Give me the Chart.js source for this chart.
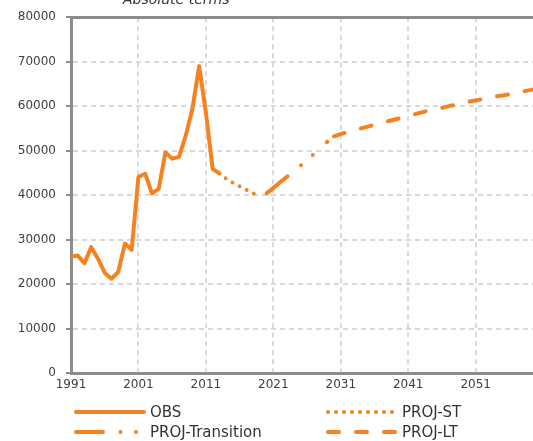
<!DOCTYPE html>
<html>
<head>
<meta charset="utf-8">
<script src="https://cdn.jsdelivr.net/npm/chart.js@4.4.0/dist/chart.umd.min.js"></script>
<style>
  html, body { margin: 0; padding: 0; background: #fff; overflow: hidden; }
  #wrap { position: relative; width: 533px; height: 441px; }
  #chartBox { position: absolute; left: 0; top: 0; width: 533px; height: 396px; }
  #title { position: absolute; left: 123px; top: -9px; font: italic 14px "DejaVu Sans", sans-serif; color: #333; white-space: nowrap; }
  #legend { position: absolute; left: 0; top: 0; width: 533px; height: 441px; font: 15px "DejaVu Sans", sans-serif; color: #333; }
  .item { position: absolute; display: flex; align-items: center; height: 18px; white-space: nowrap; }
  .item canvas { display: block; margin-right: 4px; }
</style>
</head>
<body>
<div id="wrap">
  <div id="chartBox"><canvas id="lines"></canvas></div>
  <div id="title">Absolute terms</div>
  <div id="legend"></div>
</div>
<script>
// 관측치 (OBS)
const obsYears = [1991, 1992, 1993, 1994, 1995, 1996, 1997, 1998, 1999, 2000, 2001, 2002,
                  2003, 2004, 2005, 2006, 2007, 2008, 2009, 2010, 2011, 2012, 2013];
const obsValues = [26200, 26400, 24700, 28300, 25700, 22500, 21200, 22700, 29100, 27700, 44100, 44800,
                   40400, 41400, 49600, 48200, 48600, 53300, 59400, 69000, 58600, 45900, 44900];

// 단기 전망 (PROJ-ST)
const stYears = [2013, 2014, 2015, 2016, 2017, 2018, 2019];
const stValues = [44900, 43700, 42800, 42000, 41200, 40400, 39900];

// 전환기 (PROJ-Transition)
const trYears = [2020, 2021, 2022, 2023, 2024, 2025, 2026, 2027, 2028, 2029];
const trValues = [40400, 41600, 42900, 44100, 45300, 46600, 47900, 49200, 50600, 52000];

// 장기 전망 (PROJ-LT)
const ltYears = [2030, 2031, 2032, 2033, 2034, 2035, 2036, 2037, 2038, 2039, 2040,
                 2041, 2042, 2043, 2044, 2045, 2046, 2047, 2048, 2049, 2050,
                 2051, 2052, 2053, 2054, 2055, 2056, 2057, 2058, 2059, 2060];
const ltValues = [53200, 53700, 54200, 54600, 55000, 55400, 55800, 56200, 56600, 57000, 57400,
                  57800, 58200, 58600, 59000, 59300, 59600, 60000, 60300, 60600, 61000,
                  61300, 61600, 61900, 62200, 62400, 62700, 63000, 63300, 63600, 63900];

const xTickYears = [1991, 2001, 2011, 2021, 2031, 2041, 2051];

const orange = 'rgb(245, 130, 32)';
const axisGray = '#8c8c8c';
const gridGray = '#d9d9d9';
const tickFont = { family: 'DejaVu Sans', size: 12 };

function toPoints(years, values) {
    return years.map((y, i) => ({ x: y, y: values[i] }));
}

function series(label, years, values, dash) {
    return {
        label: label,
        data: toPoints(years, values),
        borderColor: orange,
        backgroundColor: orange,
        borderWidth: 4,
        borderDash: dash,
        borderCapStyle: 'round',
        borderJoinStyle: 'round',
        pointRadius: 0,
        tension: 0,
        fill: false
    };
}

const ctx = document.getElementById('lines').getContext('2d');
const lines = new Chart(ctx, {
    type: 'line',
    data: {
        datasets: [
            series('OBS', obsYears, obsValues, []),
            series('PROJ-ST', stYears, stValues, [0, 8]),
            series('PROJ-Transition', trYears, trValues, [27, 17.5, 0, 15.5, 0, 19]),
            series('PROJ-LT', ltYears, ltValues, [11, 17])
        ]
    },
    options: {
        responsive: true,
        maintainAspectRatio: false,
        animation: false,
        layout: { padding: { top: 16, left: 0, right: 0, bottom: 0 } },
        plugins: {
            legend: { display: false },
            tooltip: { enabled: false }
        },
        scales: {
            x: {
                type: 'linear',
                min: 1991,
                max: 2059.5,
                afterBuildTicks: s => { s.ticks = xTickYears.map(v => ({ value: v })); },
                afterFit: s => { s.height = 23; },
                grid: { color: gridGray, lineWidth: 2, drawTicks: false },
                border: { color: axisGray, width: 3, dash: [5, 4] },
                ticks: { color: '#404040', font: tickFont, padding: 5, maxRotation: 0, callback: v => String(v) }
            },
            x2: {
                type: 'linear',
                position: 'top',
                min: 1991,
                max: 2059.5,
                grid: { display: false, drawTicks: false },
                ticks: { display: false },
                border: { color: axisGray, width: 3 }
            },
            y: {
                min: 0,
                max: 80000,
                afterFit: s => { s.width = 71; },
                grid: { color: gridGray, lineWidth: 2, tickLength: 5, tickColor: axisGray, tickWidth: 2 },
                border: { color: axisGray, width: 3, dash: [5, 4] },
                ticks: { stepSize: 10000, color: '#404040', font: tickFont, padding: 10, callback: v => String(v) }
            }
        }
    }
});

// html 범례 (2열 배치)
const legendCells = [[74, 403], [326, 403], [74, 422.5], [326, 422.5]];
const legendBox = document.getElementById('legend');
Chart.defaults.plugins.legend.labels.generateLabels(lines).forEach((item, i) => {
    const div = document.createElement('div');
    div.className = 'item';
    div.style.left = legendCells[i][0] + 'px';
    div.style.top = legendCells[i][1] + 'px';
    const c = document.createElement('canvas');
    c.width = 72; c.height = 8;
    const g = c.getContext('2d');
    g.strokeStyle = item.strokeStyle;
    g.lineWidth = item.lineWidth;
    g.lineCap = 'round';
    g.setLineDash(item.lineDash || []);
    g.beginPath();
    g.moveTo(2, 4);
    g.lineTo(70, 4);
    g.stroke();
    const span = document.createElement('span');
    span.textContent = item.text;
    div.appendChild(c);
    div.appendChild(span);
    legendBox.appendChild(div);
});
</script>
</body>
</html>
